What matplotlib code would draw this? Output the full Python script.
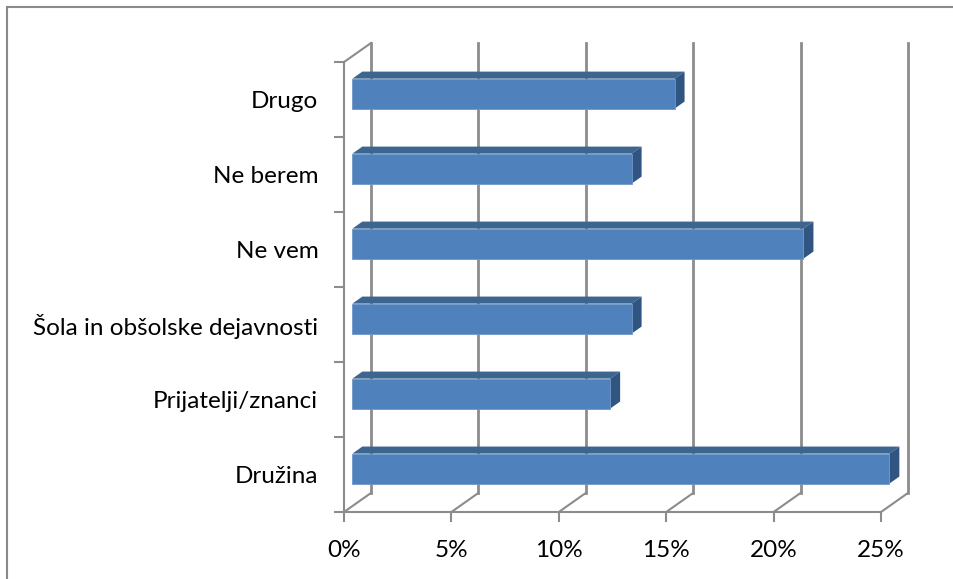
import numpy as np
import matplotlib
matplotlib.use('Agg')
import matplotlib.pyplot as plt
from matplotlib.patches import Polygon, Rectangle

# data (bottom to top, as shown)
categories = ['Družina', 'Prijatelji/znanci', 'Šola in obšolske dejavnosti',
              'Ne vem', 'Ne berem', 'Drugo']
values = [25, 12, 13, 21, 13, 15]
xticks = [0, 5, 10, 15, 20, 25]
xtick_labels = ['0%', '5%', '10%', '15%', '20%', '25%']

plt.rcParams['font.family'] = ['Lato', 'DejaVu Sans']

W, H = 954, 579
fig = plt.figure(figsize=(W / 100, H / 100), dpi=100)

# fake 3d depth (in data units)
dx = 1.257
dy = 0.254
f = 0.31     # bar front depth
g = 0.37     # bar thickness in depth
h = 0.40     # bar height

x0, x1 = 344, 908
y0, y1 = 512, 43
ax = fig.add_axes([x0 / W, (H - y0) / H, (x1 - x0) / W, (y0 - y1) / H])
ax.set_xlim(0, 25 + dx)
ax.set_ylim(0, len(categories) + dy)
for s in ax.spines.values():
    s.set_visible(False)

grid = '#8c8c8c'
n = len(categories)
# back wall gridlines + floor lines
for v in xticks:
    ax.plot([v + dx, v + dx], [dy, n + dy], color=grid, lw=2, zorder=1, clip_on=False)
    ax.plot([v, v + dx], [0, dy], color=grid, lw=1.5, zorder=1, clip_on=False)
# left side wall
ax.plot([0, 0], [0, n], color=grid, lw=1.5, zorder=1, clip_on=False)
ax.plot([0, dx], [n, n + dy], color=grid, lw=1.5, zorder=1, clip_on=False)
ax.plot([0, 25], [0, 0], color=grid, lw=1.5, zorder=1, clip_on=False)

# bars
front = '#4f81bd'
top = '#3c6590'
side = '#315581'
yc = np.arange(n) + 0.5 + f * dy
ax.barh(yc, values, height=h, left=f * dx, color=front, edgecolor='#6f97c8',
        linewidth=0.6, zorder=3)
for yy, v in zip(yc, values):
    xl, xr = f * dx, f * dx + v
    yt, yb = yy + h / 2, yy - h / 2
    ax.add_patch(Polygon([(xl, yt), (xr, yt), (xr + g * dx, yt + g * dy),
                          (xl + g * dx, yt + g * dy)], closed=True,
                         facecolor=top, edgecolor='none', zorder=2.9))
    ax.add_patch(Polygon([(xr, yb), (xr + g * dx, yb + g * dy),
                          (xr + g * dx, yt + g * dy), (xr, yt)], closed=True,
                         facecolor=side, edgecolor='none', zorder=2.9))

# ticks
ax.set_xticks(xticks)
ax.set_xticklabels(xtick_labels, fontsize=17.5)
ax.tick_params(axis='x', length=7, width=1.5, color=grid, pad=13)
ax.set_yticks(range(n + 1))
ax.set_yticklabels([])
ax.set_yticks(np.arange(n) + 0.5, minor=True)
ax.set_yticklabels(categories, minor=True, fontsize=17.5)
ax.tick_params(axis='y', which='major', length=7, width=1.5, color=grid)
ax.tick_params(axis='y', which='minor', length=0, pad=18.5)

# chart border
fig.add_artist(Rectangle((7 / W, -0.1), 1.2, (H - 7) / H + 0.1,
                         transform=fig.transFigure, fill=False,
                         edgecolor='#8a8a8a', lw=1.5))

fig.savefig('out.png', dpi=100)
